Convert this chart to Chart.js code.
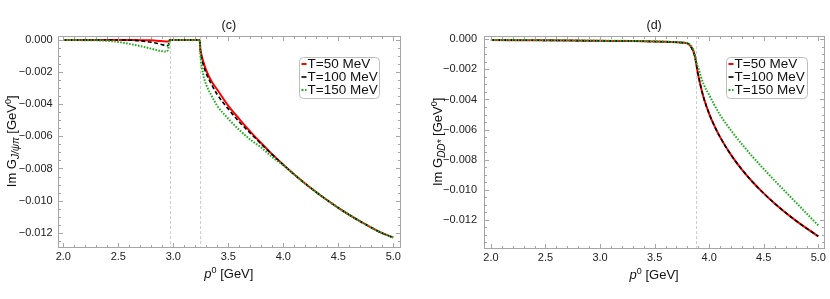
<!DOCTYPE html>
<html><head><meta charset="utf-8">
<script src="https://cdn.jsdelivr.net/npm/chart.js@4.4.0/dist/chart.umd.min.js"></script>
<style>
html,body{margin:0;padding:0;background:#fff;overflow:hidden}
#wrap{position:relative;width:830px;height:299px}
canvas{position:absolute;top:0}
</style></head><body>
<div id="wrap">
<canvas id="c1" width="415" height="299" style="left:0"></canvas>
<canvas id="c2" width="415" height="299" style="left:415px"></canvas>
</div>
<script>
// ---------- data ----------
const seriesLabels = ['T=50 MeV', 'T=100 MeV', 'T=150 MeV'];

// panel (c): Im G_{J/psi pi}
const xC = [2.0, 2.2, 2.3, 2.4, 2.5, 2.6, 2.7, 2.8, 2.85, 2.9, 2.93, 2.95, 2.97, 3.0, 3.1, 3.2, 3.24, 3.245, 3.25, 3.27, 3.3, 3.35, 3.4, 3.5, 3.6, 3.7, 3.8, 3.9, 4.0, 4.1, 4.2, 4.3, 4.4, 4.5, 4.6, 4.7, 4.8, 4.9, 5.0];
const yC50 = [0, 0, 0, 0, 0, 0, -0.00001, -0.00002, -0.00004, -0.00007, -0.00009, -0.0001, 0, 0, 0, 0, 0, -0.0005, -0.00072, -0.0013, -0.0019, -0.0026, -0.0031, -0.0041, -0.00492, -0.0057, -0.00643, -0.00712, -0.00777, -0.00838, -0.00895, -0.00948, -0.00998, -0.01045, -0.01089, -0.0113, -0.01168, -0.01203, -0.0123];
const yC100 = [0, 0, 0, 0, 0, -0.00001, -0.00005, -0.00014, -0.0002, -0.00029, -0.00034, -0.00036, 0, 0, 0, 0, 0, -0.0006, -0.00085, -0.0015, -0.0021, -0.0028, -0.0034, -0.0043, -0.0051, -0.0058, -0.00648, -0.00714, -0.00777, -0.00838, -0.00895, -0.00948, -0.00998, -0.01045, -0.01089, -0.0113, -0.01168, -0.01203, -0.0123];
const yC150 = [0, -0.00001, -0.00002, -0.00005, -0.00012, -0.00024, -0.00038, -0.00054, -0.00063, -0.0007, -0.00072, -0.00064, 0, 0, 0, 0, 0, -0.0008, -0.0012, -0.0021, -0.0028, -0.0035, -0.0041, -0.0049, -0.0056, -0.0062, -0.0067, -0.0073, -0.0078, -0.00838, -0.00895, -0.00948, -0.00998, -0.01045, -0.01089, -0.0113, -0.01168, -0.01203, -0.0123];
const vlinesC = [2.97, 3.24];

// panel (d): Im G_{DD*}
const xD = [2.0, 2.5, 3.0, 3.3, 3.5, 3.6, 3.7, 3.75, 3.8, 3.83, 3.85, 3.86, 3.87, 3.88, 3.89, 3.9, 3.925, 3.95, 4.0, 4.05, 4.1, 4.2, 4.3, 4.4, 4.5, 4.6, 4.7, 4.8, 4.9, 5.0];
const yD50 = [-0.00005, -0.00007, -0.0001, -0.00012, -0.00015, -0.00017, -0.0002, -0.00022, -0.00027, -0.00045, -0.00072, -0.0009, -0.00118, -0.00155, -0.002, -0.0024, -0.0032, -0.0039, -0.00495, -0.00579, -0.0065, -0.00768, -0.00866, -0.0095, -0.01024, -0.01091, -0.01152, -0.01208, -0.0126, -0.01309];
const yD100 = [-0.00005, -0.00007, -0.0001, -0.00012, -0.00015, -0.00017, -0.0002, -0.00022, -0.00027, -0.00045, -0.00072, -0.0009, -0.00118, -0.00155, -0.002, -0.0024, -0.0032, -0.0039, -0.00495, -0.00579, -0.0065, -0.00768, -0.00866, -0.0095, -0.01024, -0.01091, -0.01152, -0.01208, -0.0126, -0.01309];
const yD150 = [-0.00004, -0.00006, -0.00009, -0.00011, -0.00014, -0.00016, -0.00019, -0.00021, -0.00025, -0.0004, -0.0006, -0.00078, -0.0011, -0.00145, -0.0017, -0.0019, -0.0025, -0.003, -0.0037, -0.0044, -0.00503, -0.00606, -0.00697, -0.00782, -0.00862, -0.00939, -0.01014, -0.01088, -0.01163, -0.01237];
const vlinesD = [3.876];

// tick labels
const xTicks = [2.0, 2.5, 3.0, 3.5, 4.0, 4.5, 5.0];
const yTicks = [0, -0.002, -0.004, -0.006, -0.008, -0.010, -0.012];

// ---------- styling ----------
const FONT = "'Liberation Sans', Arial, sans-serif";
const colors = ['#ff0000', '#000000', '#22ac22'];
const widths = [2, 1.6, 2];
const dashes = [[], [4, 2.5], [1.6, 1.4]];
const legendDashes = [[], [], [2, 1.5]];
const drawOrder = [3, 2, 1]; // green on top, red at bottom

function makeDatasets(xs, ys) {
  return ys.map((arr, i) => ({
    label: seriesLabels[i],
    data: xs.map((x, j) => ({ x: x, y: arr[j] })),
    borderColor: colors[i],
    borderWidth: widths[i],
    borderDash: dashes[i],
    pointRadius: 0,
    fill: false,
    order: drawOrder[i],
    cubicInterpolationMode: 'monotone',
    legendDash: legendDashes[i]
  }));
}

function fmtY(v) {
  if (Math.abs(v) < 1e-12) return '0.000';
  return (v < 0 ? '\u2212' : '') + Math.abs(v).toFixed(3);
}

function drawParts(ctx, parts, cx, cy) {
  let total = 0;
  parts.forEach(p => { ctx.font = (p.style || '') + ' ' + p.size + 'px ' + FONT; p.w = ctx.measureText(p.t).width; total += p.w; });
  let x = cx - total / 2;
  ctx.textAlign = 'left';
  ctx.textBaseline = 'alphabetic';
  parts.forEach(p => { ctx.font = (p.style || '') + ' ' + p.size + 'px ' + FONT; ctx.fillText(p.t, x, cy + (p.dy || 0)); x += p.w; });
}

const framePlugin = {
  id: 'frame',
  beforeDatasetsDraw(chart, args, o) {
    const { ctx, chartArea: a, scales: { x } } = chart;
    ctx.save();
    ctx.strokeStyle = '#cfcfcf'; ctx.lineWidth = 1; ctx.setLineDash([3, 2]);
    (o.vlines || []).forEach(v => {
      const px = Math.round(x.getPixelForValue(v)) + 0.5;
      ctx.beginPath(); ctx.moveTo(px, a.top); ctx.lineTo(px, a.bottom); ctx.stroke();
    });
    ctx.restore();
  },
  afterDraw(chart, args, o) {
    const { ctx, chartArea: a, scales: { x, y } } = chart;
    ctx.save();
    ctx.strokeStyle = '#a6a6a6'; ctx.lineWidth = 1; ctx.setLineDash([]);
    ctx.strokeRect(Math.round(a.left) + 0.5, Math.round(a.top) + 0.5, Math.round(a.right - a.left), Math.round(a.bottom - a.top));
    const L = Math.round(a.left) + 0.5, R = Math.round(a.right) + 0.5, T = Math.round(a.top) + 0.5, B = Math.round(a.bottom) + 0.5;
    ctx.beginPath();
    function xt(v, len) { const p = Math.round(x.getPixelForValue(v)) + 0.5; ctx.moveTo(p, B); ctx.lineTo(p, B - len); ctx.moveTo(p, T); ctx.lineTo(p, T + len); }
    function yt(v, len) { const p = Math.round(y.getPixelForValue(v)) + 0.5; ctx.moveTo(L, p); ctx.lineTo(L + len, p); ctx.moveTo(R, p); ctx.lineTo(R - len, p); }
    for (let k = Math.ceil(x.min / 0.1 - 1e-9); k <= Math.floor(x.max / 0.1 + 1e-9); k++) {
      const v = k * 0.1; const major = Math.abs(v * 2 - Math.round(v * 2)) < 1e-6;
      xt(v, major ? 4.5 : 2.5);
    }
    for (let k = Math.ceil(y.min / 0.0005 - 1e-9); k <= Math.floor(y.max / 0.0005 + 1e-9); k++) {
      const v = k * 0.0005; const major = (k % 4) === 0;
      yt(v, major ? 4.5 : 2.5);
    }
    ctx.stroke();

    ctx.fillStyle = '#111';
    ctx.font = '12.5px ' + FONT; ctx.textAlign = 'center'; ctx.textBaseline = 'middle';
    ctx.fillText(o.title, (a.left + a.right) / 2, 25.5);

    drawParts(ctx, [
      { t: 'p', size: 13, style: 'italic' },
      { t: '0', size: 9, dy: -5 },
      { t: ' [GeV]', size: 13 }
    ], (a.left + a.right) / 2, a.bottom + 31);

    ctx.save();
    ctx.translate(o.ytitleX, (a.top + a.bottom) / 2);
    ctx.rotate(-Math.PI / 2);
    drawParts(ctx, [
      { t: 'Im G', size: 13 },
      { t: o.ysub, size: 10, style: 'italic', dy: 3 },
      { t: ' [GeV', size: 13 },
      { t: '0', size: 9, dy: -5 },
      { t: ']', size: 13 }
    ], 0, 4.5);
    ctx.restore();

    const bx = a.left + o.legend.dx, by = a.top + o.legend.dy, bw = o.legend.w, bh = o.legend.h;
    ctx.beginPath();
    if (ctx.roundRect) ctx.roundRect(bx + 0.5, by + 0.5, bw, bh, 4); else ctx.rect(bx + 0.5, by + 0.5, bw, bh);
    ctx.fillStyle = 'rgba(255,255,255,0.9)'; ctx.fill();
    ctx.strokeStyle = '#bdbdbd'; ctx.lineWidth = 1; ctx.stroke();
    chart.data.datasets.forEach((ds, i) => {
      const cy = by + 7 + i * 13;
      ctx.beginPath();
      ctx.strokeStyle = ds.borderColor; ctx.lineWidth = ds.borderWidth; ctx.setLineDash(ds.legendDash || []);
      ctx.moveTo(bx + 2.5, cy); ctx.lineTo(bx + 7.5, cy); ctx.stroke();
      ctx.setLineDash([]);
      ctx.fillStyle = '#111'; ctx.font = '13.5px ' + FONT; ctx.textAlign = 'left'; ctx.textBaseline = 'middle';
      ctx.fillText(ds.label, bx + 8.5, cy + 0.5);
    });
    ctx.restore();
  }
};

function makeChart(id, xs, ys, cfg) {
  return new Chart(document.getElementById(id), {
    type: 'line',
    data: { datasets: makeDatasets(xs, ys) },
    plugins: [framePlugin],
    options: {
      responsive: false,
      animation: false,
      events: [],
      layout: { padding: cfg.padding },
      plugins: {
        legend: { display: false },
        tooltip: { enabled: false },
        title: { display: false },
        frame: cfg.frame
      },
      scales: {
        x: {
          type: 'linear', min: cfg.xmin, max: cfg.xmax,
          afterBuildTicks: s => { s.ticks = xTicks.map(v => ({ value: v })); },
          afterFit: s => { s.height = cfg.xh; },
          grid: { display: false, drawTicks: false },
          border: { display: false },
          ticks: { callback: v => v.toFixed(1), font: { family: FONT, size: 11 }, color: '#222', padding: 4, maxRotation: 0, autoSkip: false }
        },
        y: {
          type: 'linear', min: cfg.ymin, max: cfg.ymax,
          afterBuildTicks: s => { s.ticks = yTicks.map(v => ({ value: v })); },
          afterFit: s => { s.width = cfg.yw; },
          grid: { display: false, drawTicks: false },
          border: { display: false },
          ticks: { callback: v => fmtY(v), font: { family: FONT, size: 11 }, color: '#222', padding: cfg.ypad, autoSkip: false }
        }
      }
    }
  });
}

makeChart('c1', xC, [yC50, yC100, yC150], {
  padding: { left: 0, right: 15, top: 36, bottom: 0 },
  xmin: 1.949, xmax: 5.0606, ymin: -0.01287, ymax: 0.00025,
  xh: 52.3, yw: 57.7, ypad: 5,
  frame: { vlines: vlinesC, title: '(c)', ysub: 'J/\u03C8\u03C0', ytitleX: 11, legend: { dx: 241.3, dy: 21, w: 80, h: 41 } }
});
makeChart('c2', xD, [yD50, yD100, yD150], {
  padding: { left: 0, right: 1.7, top: 36, bottom: 0 },
  xmin: 1.9366, xmax: 5.0543, ymin: -0.013848, ymax: 0.000219,
  xh: 51.3, yw: 69, ypad: 7,
  frame: { vlines: vlinesD, title: '(d)', ysub: 'DD*', ytitleX: 22, legend: { dx: 242, dy: 21, w: 81, h: 41 } }
});
</script>
</body></html>
